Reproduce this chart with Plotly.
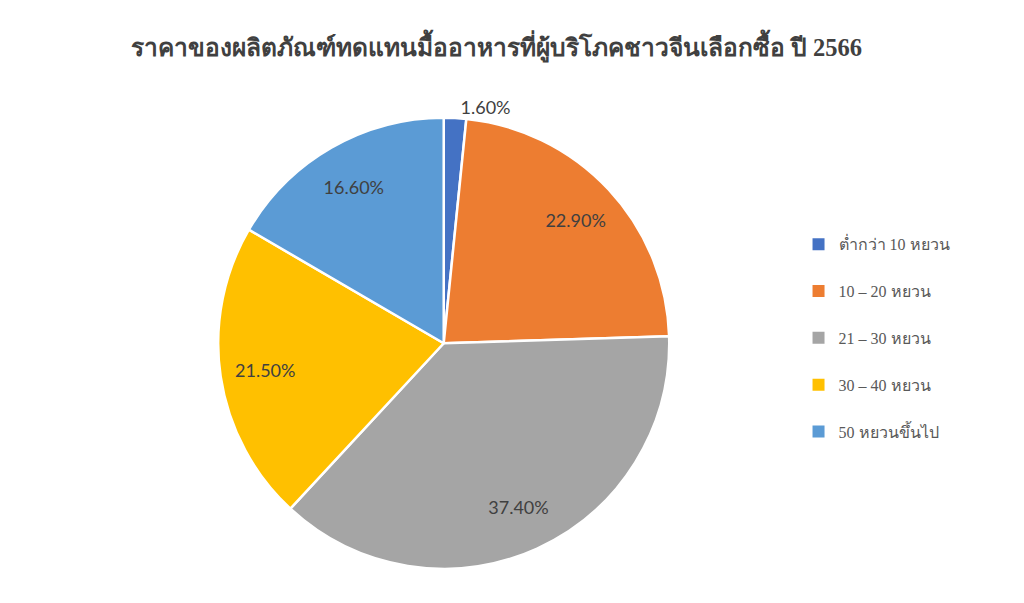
import plotly.graph_objects as go

title = "ราคาของผลิตภัณฑ์ทดแทนมื้ออาหารที่ผู้บริโภคชาวจีนเลือกซื้อ ปี 2566"
categories = ["ต่ำกว่า 10 หยวน", "10 – 20 หยวน", "21 – 30 หยวน", "30 – 40 หยวน", "50 หยวนขึ้นไป"]
values = [1.6, 22.9, 37.4, 21.5, 16.6]
colors = ["#4472C4", "#ED7D31", "#A5A5A5", "#FFC000", "#5B9BD5"]
positions = ["outside", "inside", "inside", "inside", "inside"]

domain = dict(x=[0.205, 0.646], y=[0.070, 0.818])

fig = go.Figure()
# main pie (slices)
fig.add_trace(go.Pie(
    labels=categories,
    values=values,
    sort=False,
    direction="clockwise",
    rotation=0,
    marker=dict(colors=colors, line=dict(color="white", width=2.5)),
    textinfo="none",
    showlegend=False,
    hoverinfo="label+value",
    domain=domain,
))
# transparent ring pie, only used to place data labels further out
fig.add_trace(go.Pie(
    labels=categories,
    values=values,
    sort=False,
    direction="clockwise",
    rotation=0,
    hole=0.6,
    marker=dict(colors=["rgba(0,0,0,0)"] * len(values), line=dict(width=0)),
    texttemplate="%{value:.2f}%",
    textposition=positions,
    insidetextorientation="horizontal",
    textfont=dict(family="Lato, Liberation Sans, sans-serif", size=18, color="#404040"),
    showlegend=False,
    hoverinfo="skip",
    domain=domain,
))

for i, (cat, col) in enumerate(zip(categories, colors)):
    fig.add_trace(go.Scatter(
        x=[None], y=[None], mode="markers", name=cat,
        marker=dict(symbol="square", size=12, color=col),
        legendgroup=f"g{i}", showlegend=True,
    ))

fig.update_layout(
    width=1024, height=603,
    paper_bgcolor="white", plot_bgcolor="white",
    margin=dict(l=0, r=0, t=0, b=0),
    title=dict(text=f"<b>{title}</b>", x=0.477, xanchor="center", y=0.935, yanchor="middle",
               font=dict(family="Liberation Serif, serif", size=24.5, color="#404040")),
    xaxis=dict(visible=False), yaxis=dict(visible=False),
    legend=dict(x=0.772, xanchor="left", y=0.453, yanchor="middle",
                font=dict(family="Liberation Serif, serif", size=16, color="#595959"),
                tracegroupgap=23, itemwidth=30),
)

fig.write_html("out.html")
